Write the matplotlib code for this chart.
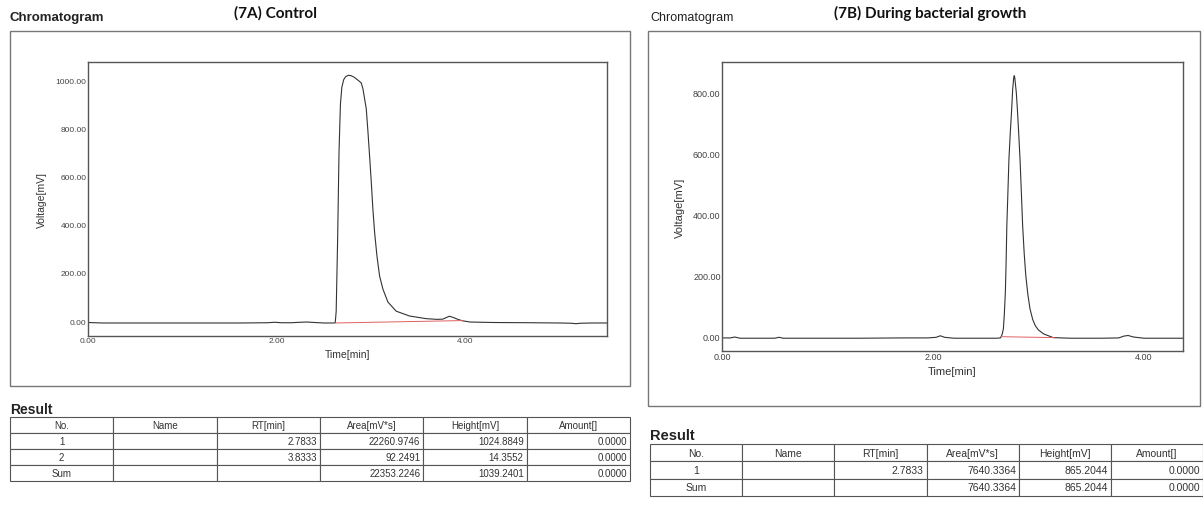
import matplotlib.pyplot as plt
from matplotlib.patches import Rectangle
from matplotlib import font_manager

W, H = 1203, 506

# (7A) control trace
t_ctrl = [0.00, 0.15, 0.40, 0.80, 1.20, 1.60, 1.90, 1.98, 2.05, 2.15, 2.25, 2.32, 2.40, 2.50,
          2.60, 2.62, 2.63, 2.645, 2.66, 2.675, 2.69, 2.71, 2.73, 2.76, 2.79, 2.82, 2.85, 2.875,
          2.896, 2.914, 2.93, 2.949, 2.967, 2.984, 3.002, 3.019, 3.037, 3.062, 3.09, 3.125,
          3.178, 3.266, 3.407, 3.584, 3.70, 3.76, 3.80, 3.83, 3.87, 3.92, 3.97, 4.05, 4.30,
          4.70, 5.00, 5.12, 5.17, 5.22, 5.35, 5.50]
mv_ctrl = [-6, -8, -8, -8, -8, -8, -7, -5, -7, -7, -5, -4, -6, -8,
           -8, -7, 40, 330, 700, 900, 970, 1002, 1014, 1020, 1018, 1012, 1003, 995,
           988, 963, 925, 880, 784, 685, 577, 465, 369, 270, 187, 133,
           79, 41, 21, 10, 7, 8, 15, 20, 15, 7, 1, -4, -6,
           -7, -8, -9, -11, -9, -8, -8]
base_ctrl_t = [2.62, 3.97]
base_ctrl_mv = [-8, 2]

# (7B) during bacterial growth
t_bact = [0.00, 0.08, 0.12, 0.17, 0.40, 0.50, 0.54, 0.58, 0.90, 1.30, 1.70, 1.95, 2.03, 2.07,
          2.11, 2.20, 2.50, 2.60, 2.64, 2.655, 2.667, 2.676, 2.686, 2.693, 2.70, 2.71, 2.72,
          2.733, 2.746, 2.755, 2.765, 2.77, 2.775, 2.79, 2.80, 2.812, 2.825, 2.838, 2.85,
          2.865, 2.88, 2.90, 2.92, 2.945, 2.97, 3.00, 3.05, 3.14, 3.30, 3.60, 3.76, 3.81,
          3.85, 3.90, 4.00, 4.37]
mv_bact = [-6, -6, -3, -7, -7, -7, -4, -7, -7, -7, -6, -6, -4, 1,
           -4, -7, -7, -7, -6, 5, 23, 70, 143, 240, 362, 470, 582,
           670, 746, 810, 848, 856, 850, 800, 746, 670, 582, 470, 362,
           270, 198, 135, 89, 55, 34, 20, 7, -5, -7, -7, -6, 0,
           2, -3, -7, -7]
base_bact_t = [2.65, 3.15]
base_bact_mv = [-2, -5]

yticks_ctrl = [0, 200, 400, 600, 800, 1000]
yticks_bact = [0, 200, 400, 600, 800]
xticks = [0, 2, 4]

cols = ["No.", "Name", "RT[min]", "Area[mV*s]", "Height[mV]", "Amount[]"]
rows_ctrl = [["1", "", "2.7833", "22260.9746", "1024.8849", "0.0000"],
             ["2", "", "3.8333", "92.2491", "14.3552", "0.0000"],
             ["Sum", "", "", "22353.2246", "1039.2401", "0.0000"]]
rows_bact = [["1", "", "2.7833", "7640.3364", "865.2044", "0.0000"],
             ["Sum", "", "", "7640.3364", "865.2044", "0.0000"]]

names = {f.name for f in font_manager.fontManager.ttflist}
narrow = "Liberation Sans Narrow" if "Liberation Sans Narrow" in names else "Liberation Sans"
plt.rcParams["font.family"] = ["Liberation Sans", "DejaVu Sans"]

fig = plt.figure(figsize=(W / 100, H / 100), dpi=100)


def box(x0, y0, x1, y1):
    return [x0 / W, 1 - y1 / H, (x1 - x0) / W, (y1 - y0) / H]


def frame(x0, y0, x1, y1):
    fig.patches.append(Rectangle((x0 / W, 1 - y1 / H), (x1 - x0) / W, (y1 - y0) / H,
                                 transform=fig.transFigure, fill=False,
                                 edgecolor="#777777", lw=1))


def chrom(rect, t, mv, bt, bmv, yticks, xlim, ylim, fam, labsize, ylab_x):
    ax = fig.add_axes(box(*rect))
    ax.plot(t, mv, color="#333333", lw=0.8)
    ax.plot(bt, bmv, color="#e06060", lw=0.7)
    ax.set_xlim(*xlim)
    ax.set_ylim(*ylim)
    ax.set_xticks(xticks)
    ax.set_xticklabels([f"{v:.2f}" for v in xticks], family=fam)
    ax.set_yticks(yticks)
    ax.set_yticklabels([f"{v:.2f}" for v in yticks], family=fam)
    ax.tick_params(length=0, pad=1, labelsize=labsize, colors="#444444")
    for s in ax.spines.values():
        s.set_color("#555555")
        s.set_linewidth(1)
    ax.set_xlabel("Time[min]", family=fam, fontsize=labsize + 1.5, color="#333333", labelpad=3)
    fig.text(ylab_x / W, 1 - (rect[1] + rect[3]) / 2 / H, "Voltage[mV]", rotation=90,
             ha="center", va="center", family=fam, fontsize=labsize + 1.5, color="#333333")
    return ax


def result_table(rect, rows, fam, size):
    ax = fig.add_axes(box(*rect))
    ax.axis("off")
    tbl = ax.table(cellText=rows, colLabels=cols, bbox=[0, 0, 1, 1], cellLoc="center")
    tbl.auto_set_font_size(False)
    tbl.set_fontsize(size)
    for (r, c), cell in tbl.get_celld().items():
        cell.set_edgecolor("#555555")
        cell.set_linewidth(0.8)
        cell.get_text().set_family(fam)
        cell.get_text().set_color("#333333")
        if r > 0 and c >= 2:
            cell.PAD = 0.03
            cell._loc = "right"
            cell.get_text().set_horizontalalignment("right")


# left panel
fig.text(10 / W, 1 - 18 / H, "Chromatogram", fontsize=9.5, weight="bold", va="center", color="#222222")
fig.text(275 / W, 1 - 13 / H, "(7A) Control", fontsize=11, weight="bold", family=["Lato", "DejaVu Sans"],
         ha="center", va="center", color="#111111")
frame(10, 32, 630, 387)
chrom((88, 63, 607, 337), t_ctrl, mv_ctrl, base_ctrl_t, base_ctrl_mv, yticks_ctrl,
      (0, 5.5), (-62, 1075), "Liberation Sans", 6, 42)
fig.text(10 / W, 1 - 410 / H, "Result", fontsize=10, weight="bold", va="center", color="#222222")
result_table((10, 418, 630, 482), rows_ctrl, "Liberation Sans", 7)

# right panel
fig.text(650 / W, 1 - 18 / H, "Chromatogram", fontsize=9, family=narrow, va="center", color="#222222")
fig.text(930 / W, 1 - 13 / H, "(7B) During bacterial growth", fontsize=11, weight="bold",
         family=["Lato", "DejaVu Sans"], ha="center", va="center", color="#111111")
frame(648, 32, 1200, 407)
chrom((722, 63, 1183, 352), t_bact, mv_bact, base_bact_t, base_bact_mv, yticks_bact,
      (0, 4.37), (-49, 901), narrow, 6.5, 680)
fig.text(650 / W, 1 - 436 / H, "Result", fontsize=10.5, weight="bold", family=narrow, va="center", color="#222222")
result_table((650, 445, 1203, 497), rows_bact, narrow, 7.5)

fig.savefig("out.png", dpi=100)
